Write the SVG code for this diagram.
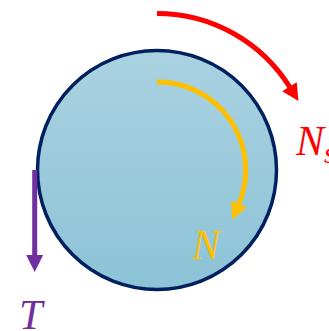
<svg xmlns="http://www.w3.org/2000/svg" width="329" height="331" viewBox="0 0 329 331">
<defs>
<linearGradient id="ballFill" x1="0" y1="0" x2="0" y2="1">
<stop offset="0" stop-color="#aad2e1"/>
<stop offset="1" stop-color="#8cc3d6"/>
</linearGradient>
<marker id="headRed" markerUnits="userSpaceOnUse" markerWidth="20" markerHeight="20" viewBox="0 -10 20 20" refX="1" refY="0" orient="auto" overflow="visible">
<path d="M0,-8.5 L17,0 L0,8.5 Z" fill="#ff0000"/>
</marker>
<marker id="headYellow" markerUnits="userSpaceOnUse" markerWidth="20" markerHeight="20" viewBox="0 -10 20 20" refX="1" refY="0" orient="auto" overflow="visible">
<path d="M0,-8.5 L17,0 L0,8.5 Z" fill="#ffc000"/>
</marker>
<marker id="headPurple" markerUnits="userSpaceOnUse" markerWidth="20" markerHeight="20" viewBox="0 -10 20 20" refX="1" refY="0" orient="auto" overflow="visible">
<path d="M0,-8.5 L17,0 L0,8.5 Z" fill="#7030a0"/>
</marker>
</defs>
<style>
.conn { fill: none; stroke-width: 5; }
.lbl { font-family: "Liberation Serif", "DejaVu Serif", serif; font-style: italic; font-size: 42px; }
</style>
<g id="ball">
<circle cx="157" cy="170" r="119.5" fill="url(#ballFill)" stroke="#002060" stroke-width="3.5"/>
</g>
<g id="connectors">
<path id="arrowNs" class="conn" stroke="#ff0000" d="M157,13.5 A156.5,156.5 0 0 1 290,87.5" marker-end="url(#headRed)"/>
<path id="arrowN" class="conn" stroke="#ffc000" d="M157,82 A88,88 0 0 1 238.5,205" marker-end="url(#headYellow)"/>
<path id="arrowT" class="conn" stroke="#7030a0" d="M34.7,170 L34.7,256" marker-end="url(#headPurple)"/>
</g>
<g id="labelNs">
<text class="lbl" x="296" y="155" fill="#ff0000">N<tspan font-size="30px" dy="8">s</tspan></text>
</g>
<g id="labelN">
<text class="lbl" x="192" y="259" fill="#ffc000">N</text>
</g>
<g id="labelT">
<text class="lbl" x="19" y="329" fill="#7030a0">T</text>
</g>
</svg>
